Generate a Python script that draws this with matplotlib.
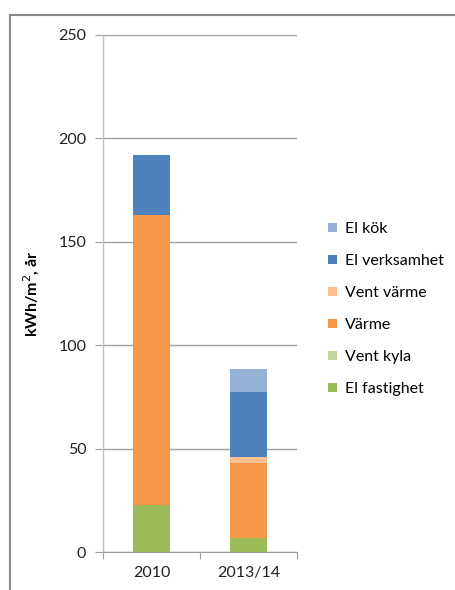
import matplotlib
matplotlib.use('Agg')
import matplotlib.pyplot as plt
from matplotlib.patches import Rectangle

plt.rcParams['font.family'] = ['Lato', 'DejaVu Sans']

# data (kWh/m2, år)
years = ['2010', '2013/14']
el_fastighet = [22.7, 7.0]
vent_kyla = [0.0, 0.0]
varme = [140.3, 36.2]
vent_varme = [0.0, 2.6]
el_verksamhet = [29.0, 31.7]
el_kok = [0.0, 11.0]

series = [
    ('El fastighet', el_fastighet, '#9BBB59'),
    ('Vent kyla', vent_kyla, '#C3D69B'),
    ('Värme', varme, '#F79646'),
    ('Vent värme', vent_varme, '#FAC090'),
    ('El verksamhet', el_verksamhet, '#4F81BD'),
    ('El kök', el_kok, '#95B3D7'),
]

W, H = 456, 590
fig = plt.figure(figsize=(W / 100, H / 100), dpi=100)

# outer chart frame
fig.patches.append(Rectangle((10 / W, -0.1), 1.2, (H - 15) / H + 0.1,
                             transform=fig.transFigure, fill=False,
                             edgecolor='#888888', linewidth=1.5))

ax = fig.add_axes([103 / W, 1 - 552 / H, (297 - 103) / W, (552 - 35) / H])

x = range(len(years))
bottom = [0.0] * len(years)
for name, vals, col in series:
    ax.bar(x, vals, 0.39, bottom=bottom, color=col, label=name, zorder=3)
    bottom = [b + v for b, v in zip(bottom, vals)]

ax.set_xlim(-0.5, 1.5)
ax.set_ylim(0, 250)
ax.set_yticks(range(0, 251, 50))
ax.yaxis.grid(True, color='#A0A0A0', linewidth=1, zorder=0)
ax.set_axisbelow(True)
for s in ['top', 'right']:
    ax.spines[s].set_visible(False)
ax.spines['left'].set_color('#BFBFBF')
ax.spines['bottom'].set_color('#A0A0A0')
ax.spines['left'].set_linewidth(1)
ax.set_xticks([-0.5, 0.5, 1.5], minor=False)
ax.set_xticklabels([])
ax.set_xticks(list(x), minor=True)
ax.set_xticklabels(years, minor=True)
ax.tick_params(axis='x', which='major', length=5, color='#A0A0A0', direction='out')
ax.tick_params(axis='x', which='minor', length=0, pad=10, labelsize=11.5, labelcolor='#222222')
ax.tick_params(axis='y', length=6, color='#A0A0A0', labelsize=11.5, labelcolor='#222222', pad=6)

ax.set_ylabel('kWh/m$^2$, år', fontsize=11.5, fontweight='bold', labelpad=12)

handles, labels = ax.get_legend_handles_labels()
leg = fig.legend(handles[::-1], labels[::-1], loc='upper left',
                 bbox_to_anchor=(322 / W, 1 - 216 / H), frameon=False,
                 fontsize=11.5, handlelength=0.52, handleheight=0.52,
                 handletextpad=0.5, labelspacing=1.12, borderaxespad=0)

fig.savefig('out.png', dpi=100)
